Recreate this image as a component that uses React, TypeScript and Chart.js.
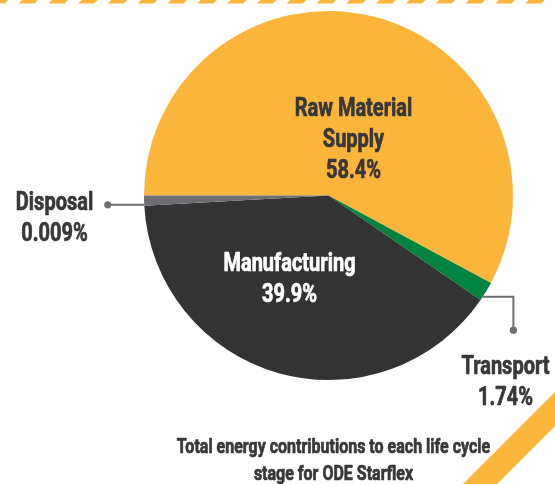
import React, { useEffect, useRef } from "react";
import { Chart, registerables } from "chart.js";
Chart.register(...registerables);

// ---- data ----
const categories = ["Raw Material Supply", "Transport", "Manufacturing", "Disposal"];
const sliceValues = [58.4, 1.74, 39.9, 0.9];
const percentLabels = ["58.4%", "1.74%", "39.9%", "0.009%"];
const nameLines = [["Raw Material", "Supply"], ["Transport"], ["Manufacturing"], ["Disposal"]];
const titleLines = ["Total energy contributions to each life cycle", "stage for ODE Starflex"];

// ---- styles ----
const sliceColors = ["#FCB53B", "#00843F", "#333333", "#6D6E71"];
const labelColors = ["#383838", "#383838", "#FFFFFF", "#383838"];
const FONT_FAMILY = 'Roboto, "Liberation Sans", sans-serif';
const CONDENSE = 0.8;
const ACCENT = "#FCB53B";
const LEADER = "#6D6E71";

// label placement relative to pie centre (x offset, first baseline offset)
const labelPlacement = [
  { dx: 25, dy: -79.5 },
  { dx: 177, dy: 178.5 },
  { dx: -39, dy: 75.5 },
  { dx: -274, dy: 14.5 },
];
const LINE_GAP = 31;

const decorPlugin = {
  id: "decor",
  beforeDraw(chart: any) {
    const ctx = chart.ctx;
    const W = chart.width;
    const H = chart.height;
    ctx.save();
    ctx.fillStyle = ACCENT;
    for (let k = -1; k < 20; k++) {
      const a = 22 + 29.8 * k;
      ctx.beginPath();
      ctx.moveTo(a, 0);
      ctx.lineTo(a + 16, 0);
      ctx.lineTo(a + 12.5, 3.5);
      ctx.lineTo(a - 3.5, 3.5);
      ctx.closePath();
      ctx.fill();
    }
    ctx.beginPath();
    ctx.moveTo(W - 92, H);
    ctx.lineTo(W, H - 92);
    ctx.lineTo(W, H - 58);
    ctx.lineTo(W - 58, H);
    ctx.closePath();
    ctx.fill();
    ctx.restore();
  },
};

function condensedText(ctx: any, text: string, x: number, y: number) {
  ctx.save();
  ctx.translate(x, y);
  ctx.scale(CONDENSE, 1);
  ctx.strokeStyle = ctx.fillStyle;
  ctx.lineWidth = 0.7;
  ctx.lineJoin = "round";
  ctx.fillText(text, 0, 0);
  ctx.strokeText(text, 0, 0);
  ctx.restore();
}

const labelPlugin = {
  id: "sliceLabels",
  afterDraw(chart: any) {
    const ctx = chart.ctx;
    const meta = chart.getDatasetMeta(0);
    const first = meta.data[0];
    if (!first) return;
    const { x: cx, y: cy } = first.getProps(["x", "y"], true);

    ctx.save();
    const edgePoint = (i: number, frac: number) => {
      const p = meta.data[i].getProps(["startAngle", "endAngle", "outerRadius"], true);
      const ang = p.startAngle + frac * (p.endAngle - p.startAngle);
      return { x: cx + p.outerRadius * Math.cos(ang), y: cy + p.outerRadius * Math.sin(ang) };
    };
    ctx.strokeStyle = LEADER;
    ctx.fillStyle = LEADER;
    ctx.lineWidth = 2;
    const d = edgePoint(3, 0.1);
    ctx.beginPath();
    ctx.moveTo(d.x, d.y);
    ctx.lineTo(d.x - 36.5, d.y);
    ctx.stroke();
    ctx.beginPath();
    ctx.arc(d.x - 36.5, d.y, 3.6, 0, Math.PI * 2);
    ctx.fill();
    const t = edgePoint(1, 0.8);
    ctx.beginPath();
    ctx.moveTo(t.x, t.y);
    ctx.lineTo(t.x + 30.6, t.y);
    ctx.lineTo(t.x + 30.6, t.y + 33.5);
    ctx.stroke();
    ctx.beginPath();
    ctx.arc(t.x + 30.6, t.y + 33.5, 3.6, 0, Math.PI * 2);
    ctx.fill();

    ctx.textAlign = "center";
    ctx.textBaseline = "alphabetic";
    ctx.font = `bold 25px ${FONT_FAMILY}`;
    categories.forEach((_, i) => {
      const pl = labelPlacement[i];
      const lines = [...nameLines[i], percentLabels[i]];
      ctx.fillStyle = labelColors[i];
      lines.forEach((ln, j) => {
        condensedText(ctx, ln, cx + pl.dx, cy + pl.dy + j * LINE_GAP);
      });
    });

    ctx.fillStyle = "#383838";
    ctx.font = `bold 20px ${FONT_FAMILY}`;
    titleLines.forEach((ln, j) => {
      condensedText(ctx, ln, cx + 5, cy + 257.5 + j * 27);
    });
    ctx.restore();
  },
};

export default function App() {
  const ref = useRef<HTMLCanvasElement | null>(null);
  useEffect(() => {
    document.body.style.margin = "0";
    const canvas = ref.current;
    if (!canvas) return;
    const chart = new Chart(canvas, {
      type: "pie",
      data: {
        labels: categories,
        datasets: [
          {
            data: sliceValues,
            backgroundColor: sliceColors,
            borderWidth: 0,
          },
        ],
      },
      options: {
        responsive: false,
        animation: false,
        devicePixelRatio: 1,
        rotation: 270,
        layout: { padding: { left: 144, top: 11, right: 42, bottom: 104 } },
        plugins: {
          legend: { display: false },
          tooltip: { enabled: false },
          title: { display: false },
        },
      },
      plugins: [decorPlugin, labelPlugin],
    });
    return () => chart.destroy();
  }, []);
  return (
    <div style={{ position: "absolute", left: 0, top: 0, width: 555, height: 484, background: "#fff" }}>
      <canvas ref={ref} width={555} height={484} />
    </div>
  );
}
